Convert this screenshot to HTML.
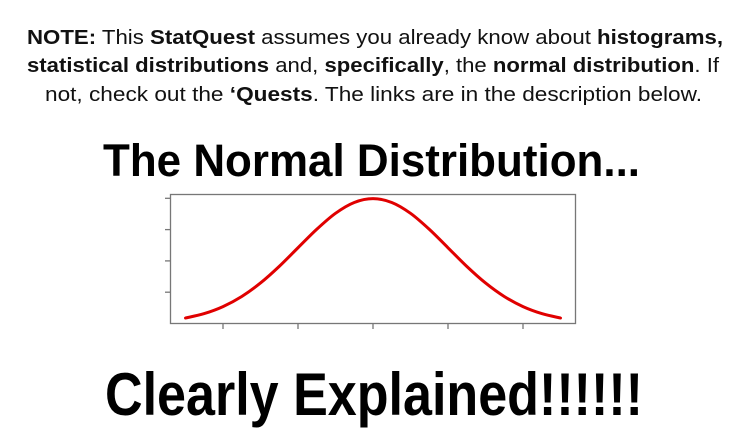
<!DOCTYPE html>
<html><head><meta charset="utf-8"><style>
html,body{margin:0;padding:0;background:#fff;}
svg{display:block;}
.n{font-family:"Liberation Sans Narrow","Liberation Sans",sans-serif;font-size:20px;fill:#111;}
.b{font-weight:bold;}
.t{font-family:"Liberation Sans",sans-serif;font-weight:bold;fill:#000;}
</style></head><body>
<svg id="s" width="746" height="441" viewBox="0 0 746 441">
<text class="n" x="27" y="44" textLength="696" lengthAdjust="spacingAndGlyphs"><tspan class="b">NOTE:</tspan> This <tspan class="b">StatQuest</tspan> assumes you already know about <tspan class="b">histograms,</tspan></text>
<text class="n" x="27" y="72" textLength="692" lengthAdjust="spacingAndGlyphs"><tspan class="b">statistical distributions</tspan> and, <tspan class="b">specifically</tspan>, the <tspan class="b">normal distribution</tspan>. If</text>
<text class="n" x="45" y="101" textLength="657" lengthAdjust="spacingAndGlyphs">not, check out the <tspan class="b">‘Quests</tspan>. The links are in the description below.</text>
<text class="t" x="103" y="176" font-size="45" textLength="537" lengthAdjust="spacingAndGlyphs">The Normal Distribution...</text>
<text class="t" x="105" y="415" font-size="60" textLength="538" lengthAdjust="spacingAndGlyphs">Clearly Explained!!!!!!</text>
<g id="chart"></g>
</svg>
<script>
const xs=[-2.5,-2.25,-2,-1.75,-1.5,-1.25,-1,-0.75,-0.5,-0.25,0,0.25,0.5,0.75,1,1.25,1.5,1.75,2,2.25,2.5];
const ys=[0.0175,0.0317,0.054,0.0863,0.1295,0.1826,0.242,0.3011,0.3521,0.3867,0.3989,0.3867,0.3521,0.3011,0.242,0.1826,0.1295,0.0863,0.054,0.0317,0.0175];
const xTicks=[-2,-1,0,1,2];
const yTicks=[0.1,0.2,0.3,0.4];
const NS='http://www.w3.org/2000/svg';
const g=document.getElementById('chart');
const X=v=>373+v*75;
const Y=v=>323.5-v*313;
function mk(t,a){const e=document.createElementNS(NS,t);for(const k in a)e.setAttribute(k,a[k]);g.appendChild(e);return e;}
const box=mk('rect',{x:170.5,y:194.5,width:405,height:129,fill:'none',stroke:'#777','stroke-width':1.3});


xTicks.forEach(v=>{const l=mk('line',{x1:X(v),x2:X(v),y1:323.5,y2:329,stroke:'#777','stroke-width':1.3});

});
yTicks.forEach(v=>{const l=mk('line',{x1:165,x2:170.5,y1:Y(v),y2:Y(v),stroke:'#777','stroke-width':1.3});

});
const P=xs.map((x,i)=>[X(x),Y(ys[i])]);
let d='M'+P[0][0]+','+P[0][1];
for(let i=0;i<P.length-1;i++){const p0=P[Math.max(i-1,0)],p1=P[i],p2=P[i+1],p3=P[Math.min(i+2,P.length-1)];
d+=' C'+(p1[0]+(p2[0]-p0[0])/6)+','+(p1[1]+(p2[1]-p0[1])/6)+' '+(p2[0]-(p3[0]-p1[0])/6)+','+(p2[1]-(p3[1]-p1[1])/6)+' '+p2[0]+','+p2[1];}
const c=mk('path',{d:d,fill:'none',stroke:'#e00000','stroke-width':3,'stroke-linecap':'round'});


</script>
</body></html>
